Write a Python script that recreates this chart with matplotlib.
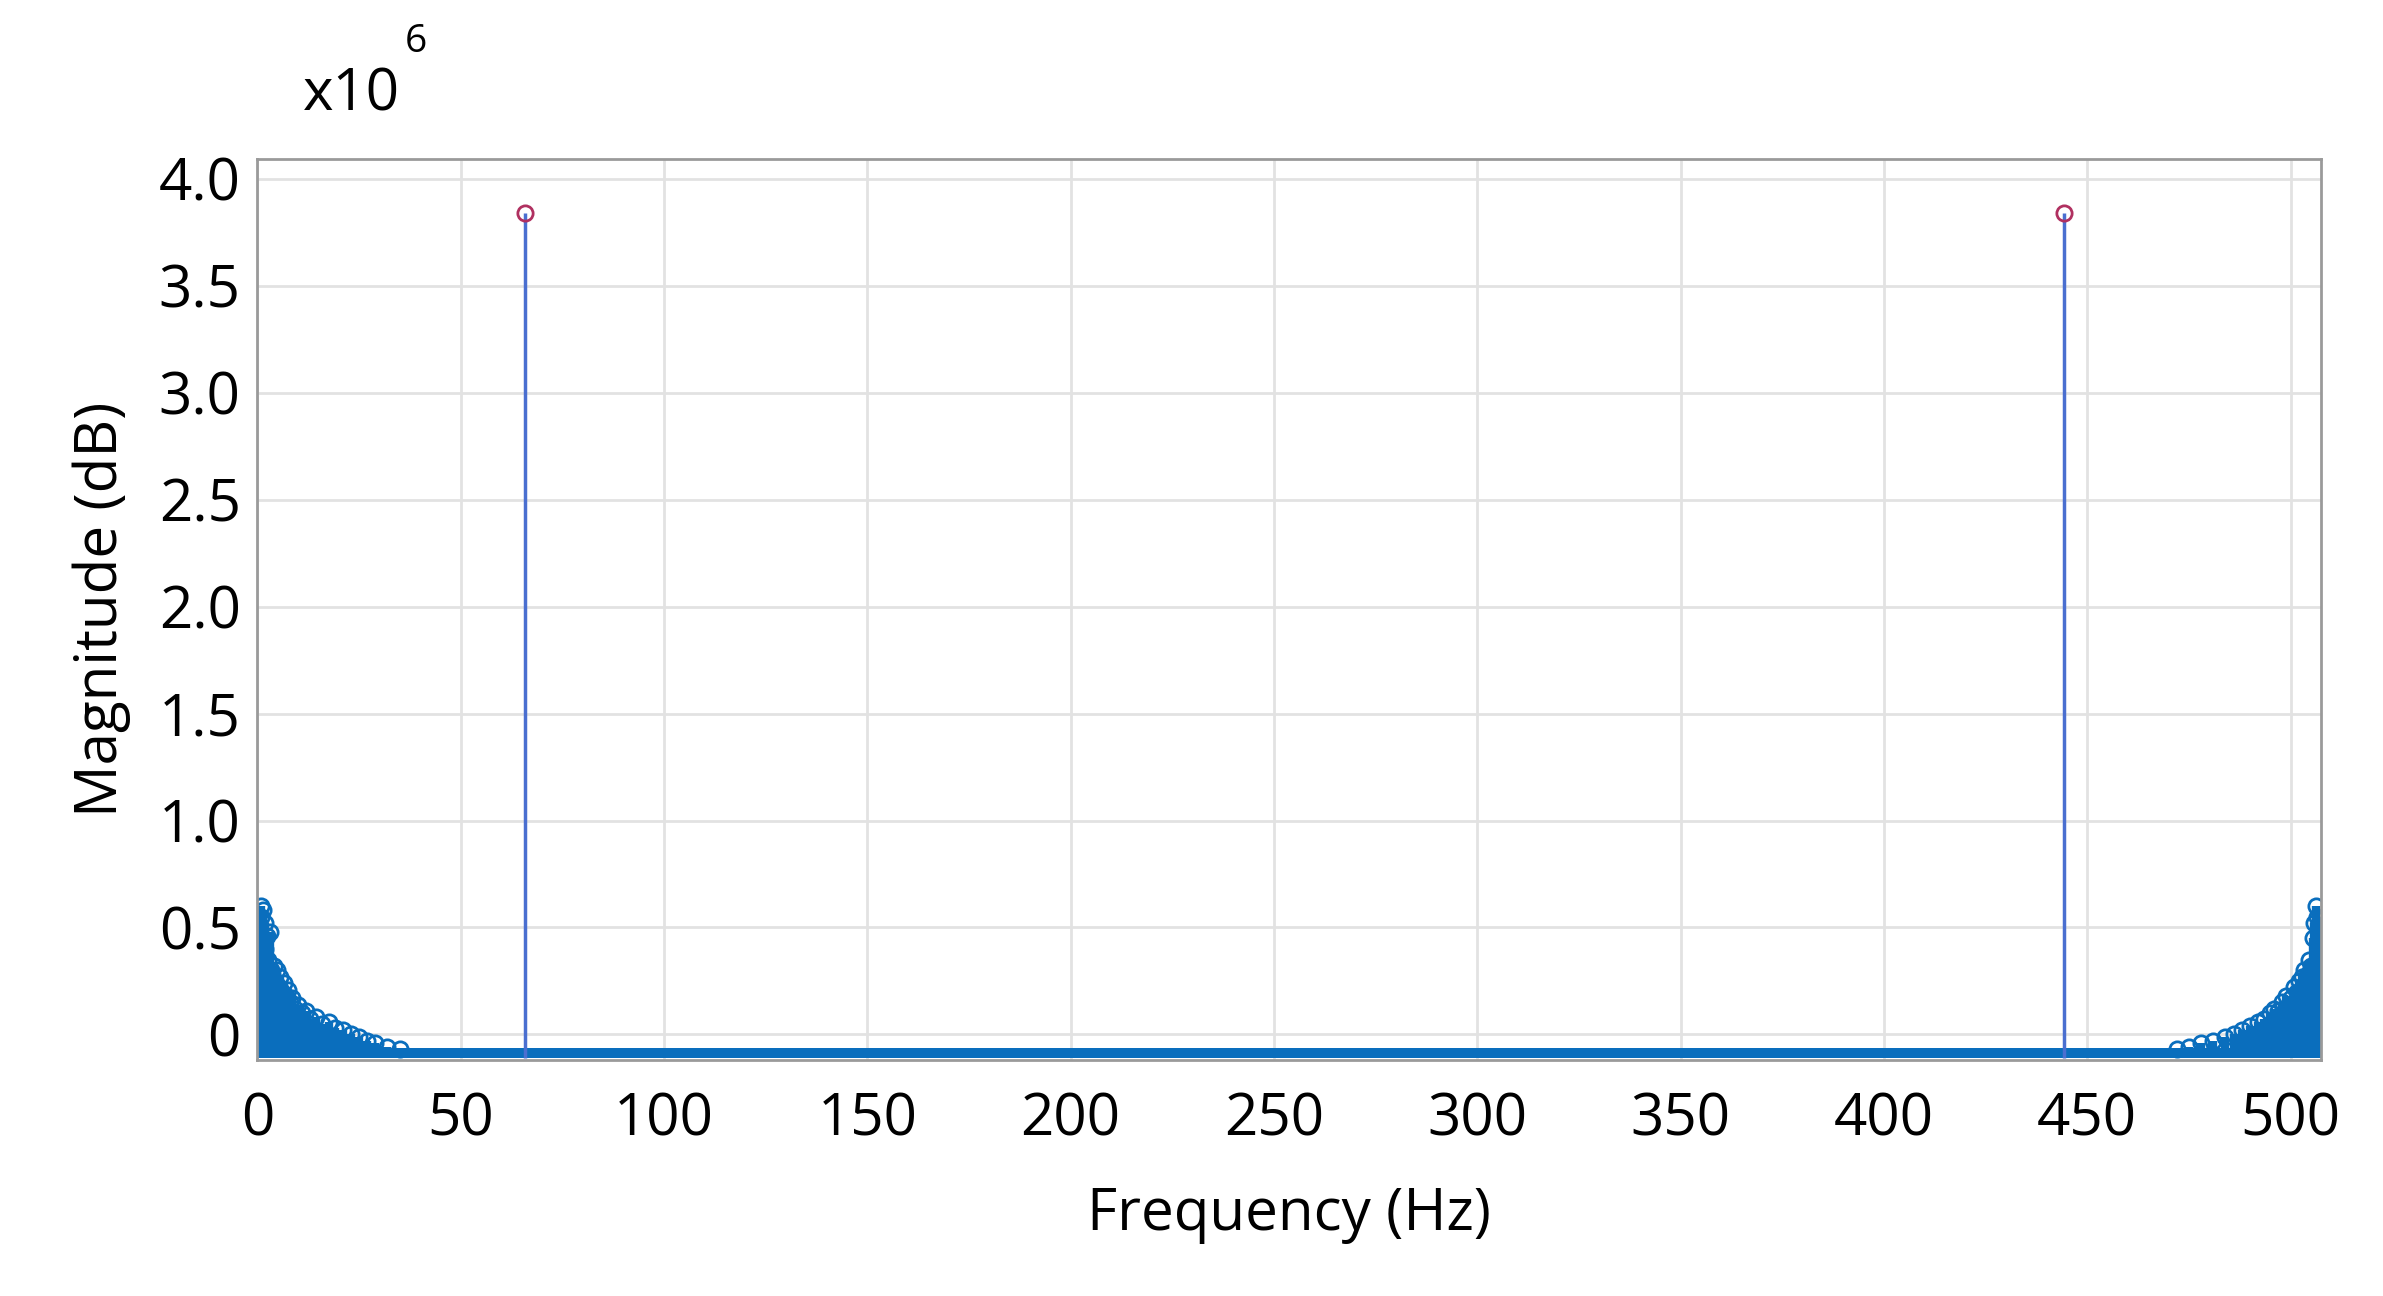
import matplotlib.pyplot as plt
import numpy as np
from matplotlib.ticker import FixedLocator

plt.rcParams['font.family'] = ['Open Sans', 'DejaVu Sans']

# magnitudes in units of 1e6
peak_freq = [65.8, 444.3]
peak_mag = [3.84, 3.84]

left_freq = [0.5, 0.8, 1.0, 1.2, 1.5, 1.8, 2.0, 2.3, 2.6, 3.0, 3.3, 3.6, 4.0, 4.4, 4.8, 5.2,
             5.6, 6.0, 6.5, 7.0, 7.5, 8.0, 8.6, 9.2, 10.0, 11.0, 12.0, 13.0, 14.5, 16.0,
             17.5, 19.0, 21.0, 23.0, 25.0, 27.0, 29.0, 32.0, 35.0]
left_mag = [0.30, 0.55, 0.60, 0.45, 0.58, 0.52, 0.40, 0.46, 0.35, 0.48, 0.30, 0.28, 0.32, 0.25,
            0.30, 0.22, 0.27, 0.20, 0.24, 0.18, 0.21, 0.15, 0.17, 0.12, 0.14, 0.10, 0.11, 0.07,
            0.08, 0.05, 0.06, 0.03, 0.02, 0.0, -0.01, -0.03, -0.04, -0.06, -0.07]

right_freq = [472.0, 475.0, 478.0, 481.0, 484.0, 486.0, 488.0,
              490.0, 492.0, 493.5, 495.0, 496.0, 497.0, 498.0, 499.0, 500.0, 500.8, 501.5,
              502.2, 502.8, 503.4, 504.0, 504.5, 505.0, 505.4, 505.8, 506.2, 506.6, 507.0]
right_mag = [-0.07, -0.06, -0.04, -0.03, -0.01, 0.0, 0.02, 0.04,
             0.06, 0.07, 0.10, 0.12, 0.11, 0.15, 0.18, 0.17, 0.22, 0.20, 0.25, 0.27, 0.30,
             0.28, 0.35, 0.32, 0.45, 0.52, 0.60, 0.55, 0.30]

x_ticks = [0, 50, 100, 150, 200, 250, 300, 350, 400, 450, 500]
y_ticks = [0, 0.5, 1.0, 1.5, 2.0, 2.5, 3.0, 3.5, 4.0]
y_labels = ['0', '0.5', '1.0', '1.5', '2.0', '2.5', '3.0', '3.5', '4.0']

base = -0.11
blue = '#0a6ebd'

fig = plt.figure(figsize=(23.83, 12.96), dpi=100)
ax = fig.add_axes([0.108, 0.182, 0.866, 0.695])

for f, m in [(left_freq, left_mag), (right_freq, right_mag)]:
    ml, sl, bl = ax.stem(f, m, bottom=base)
    plt.setp(sl, color=blue, linewidth=6)
    plt.setp(ml, color=blue, marker='o', markerfacecolor='none', markersize=11, markeredgewidth=2)
    plt.setp(bl, visible=False)

ml, sl, bl = ax.stem(peak_freq, peak_mag, bottom=base)
plt.setp(sl, color='#4a6fd0', linewidth=2.5)
plt.setp(ml, color='#b03060', marker='o', markerfacecolor='none', markersize=11, markeredgewidth=2)
plt.setp(bl, visible=False)

# noise floor band
ax.axhspan(base, -0.065, xmin=0.0, xmax=0.995, color=blue, lw=0)

ax.set_xlim(0, 507.5)
ax.set_ylim(-0.12, 4.09)
ax.xaxis.set_major_locator(FixedLocator(x_ticks))
ax.set_yticks(y_ticks)
ax.set_yticklabels(y_labels)
ax.grid(True, color='#e2e2e2', linewidth=2)
ax.set_axisbelow(True)
ax.tick_params(labelsize=42, length=0, pad=12)
ax.tick_params(axis='x', pad=22)
for s in ax.spines.values():
    s.set_color('#9a9a9a')
    s.set_linewidth(2)

ax.set_xlabel('Frequency (Hz)', fontsize=42, labelpad=26)
ax.set_ylabel('Magnitude (dB)', fontsize=42, labelpad=20)
fig.text(0.127, 0.915, r'x10', fontsize=42)
fig.text(0.170, 0.96, '6', fontsize=28)

fig.savefig('out.png', dpi=100)
